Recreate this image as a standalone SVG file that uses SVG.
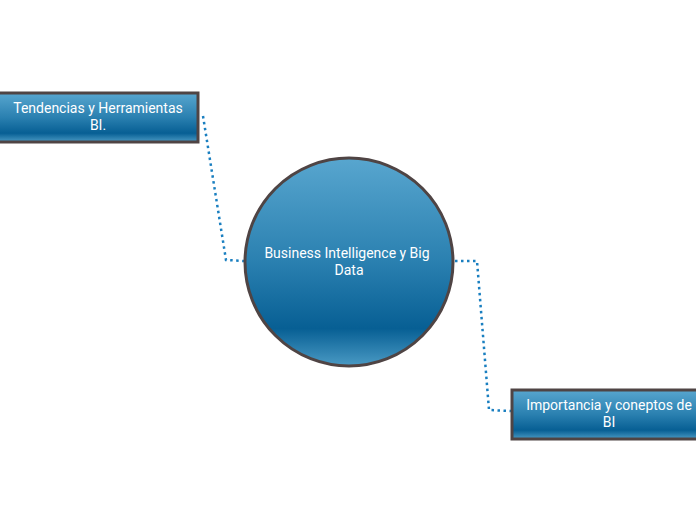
<svg xmlns="http://www.w3.org/2000/svg" width="696" height="520" viewBox="0 0 696 520">
<defs>
<linearGradient id="g" x1="0" y1="0" x2="0" y2="1">
<stop offset="0" stop-color="#58a6cf"/>
<stop offset="0.5" stop-color="#2a80b0"/>
<stop offset="0.82" stop-color="#075f94"/>
<stop offset="1" stop-color="#4a9ac4"/>
</linearGradient>
<style>
.n{fill:url(#g);stroke:#4f4444;stroke-width:3}
.t{font-family:Roboto,"Liberation Sans",sans-serif;font-size:14px;font-weight:400;fill:#fff;text-anchor:middle}
.c{fill:none;stroke:#1a7fc0;stroke-width:2.5;stroke-dasharray:2.5 3.5}
</style>
</defs>
<g id="connectors">
<path class="c" d="M203,116 L226,260 L244,261"/>
<path class="c" d="M455,261 L477,261 L489,410 L511,411"/>
</g>
<g id="center">
<circle class="n" cx="349" cy="262" r="104"/>
<text class="t" x="347" y="258">Business Intelligence y Big</text>
<text class="t" x="349" y="275">Data</text>
</g>
<g id="left">
<rect class="n" x="-4" y="93" width="202" height="49"/>
<text class="t" x="98" y="113">Tendencias y Herramientas</text>
<text class="t" x="98" y="130">BI.</text>
</g>
<g id="right">
<rect class="n" x="512" y="390" width="190" height="49"/>
<text class="t" x="609" y="410">Importancia y coneptos de</text>
<text class="t" x="609" y="427">BI</text>
</g>
</svg>
